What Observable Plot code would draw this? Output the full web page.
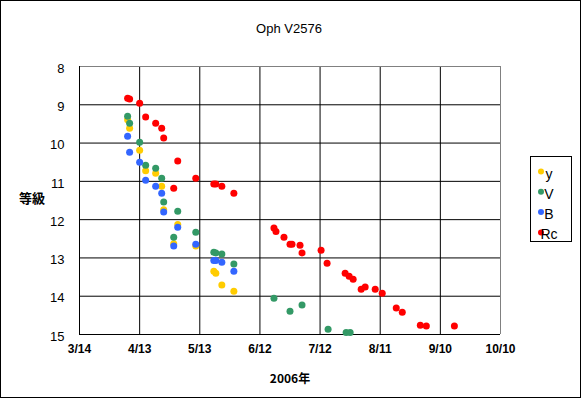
<!DOCTYPE html>
<html>
<head>
<meta charset="utf-8">
<script src="https://cdn.jsdelivr.net/npm/d3@7"></script>
<script src="https://cdn.jsdelivr.net/npm/@observablehq/plot@0.6"></script>
<style>
  html, body { margin: 0; padding: 0; background: #fff; }
  #chart { width: 581px; height: 398px; }
</style>
</head>
<body>
<div id="chart"></div>
<script>
const title = "Oph V2576";
const xLabel = "2006年";
const yLabel = "等級";
const xTickDates = ["2006-03-14","2006-04-13","2006-05-13","2006-06-12","2006-07-12","2006-08-11","2006-09-10","2006-10-10"];
const xTickLabels = ["3/14","4/13","5/13","6/12","7/12","8/11","9/10","10/10"];
const yTicks = [8,9,10,11,12,13,14,15];
const seriesNames = ["y","V","B","Rc"];
const seriesColors = ["#FFCC00","#339966","#3366FF","#FF0000"];

const yDates = ["2006-04-07","2006-04-08","2006-04-13","2006-04-16","2006-04-21","2006-04-24","2006-04-25","2006-04-30","2006-05-02","2006-05-11","2006-05-20","2006-05-21","2006-05-24","2006-05-30"];
const yMags  = [9.39,9.61,10.19,10.72,10.79,11.13,11.74,12.63,12.13,12.69,13.35,13.40,13.71,13.87];

const vDates = ["2006-04-07","2006-04-08","2006-04-13","2006-04-16","2006-04-21","2006-04-24","2006-04-25","2006-04-30","2006-05-02","2006-05-11","2006-05-20","2006-05-21","2006-05-24","2006-05-30","2006-06-19","2006-06-27","2006-07-03","2006-07-16","2006-07-25","2006-07-27"];
const vMags  = [9.30,9.48,9.98,10.58,10.66,10.92,11.54,12.46,11.78,12.33,12.85,12.87,12.90,13.16,14.05,14.39,14.23,14.86,14.95,14.95];

const bDates = ["2006-04-07","2006-04-08","2006-04-13","2006-04-16","2006-04-21","2006-04-24","2006-04-25","2006-04-30","2006-05-02","2006-05-11","2006-05-20","2006-05-21","2006-05-24","2006-05-30"];
const bMags  = [9.82,10.24,10.50,10.97,11.13,11.31,11.80,12.69,12.20,12.64,13.07,13.07,13.11,13.35];

const rDates = ["2006-04-07","2006-04-08","2006-04-13","2006-04-16","2006-04-21","2006-04-24","2006-04-25","2006-04-30","2006-05-02","2006-05-11","2006-05-20","2006-05-21","2006-05-24","2006-05-30","2006-06-19","2006-06-20","2006-06-24","2006-06-27","2006-06-28","2006-07-02","2006-07-03","2006-07-12T12:00Z","2006-07-15T12:00Z","2006-07-24T12:00Z","2006-07-26T12:00Z","2006-07-28T12:00Z","2006-08-01T12:00Z","2006-08-03T12:00Z","2006-08-08T12:00Z","2006-08-12","2006-08-19","2006-08-22","2006-08-31","2006-09-03","2006-09-17"];
const rMags  = [8.83,8.85,8.96,9.32,9.48,9.61,9.87,11.18,10.47,10.92,11.07,11.07,11.13,11.31,12.22,12.31,12.46,12.64,12.64,12.67,12.87,12.80,13.14,13.40,13.48,13.56,13.82,13.76,13.82,13.92,14.31,14.42,14.76,14.78,14.78];

const allDates = [yDates, vDates, bDates, rDates];
const allMags = [yMags, vMags, bMags, rMags];
const data = [];
seriesNames.forEach((s, i) => {
  allDates[i].forEach((d, j) => data.push({series: s, date: new Date(d), mag: allMags[i][j]}));
});
const tickDates = xTickDates.map(d => new Date(d));
const labelOf = new Map(tickDates.map((d, i) => [+d, xTickLabels[i]]));

const W = 581, H = 398;
const chart = Plot.plot({
  width: W, height: H,
  marginLeft: 79, marginRight: 81, marginTop: 66, marginBottom: 64,
  style: {background: "#fff", fontFamily: "'Liberation Sans', Arial, sans-serif", overflow: "visible"},
  x: {type: "utc", domain: [tickDates[0], tickDates[tickDates.length - 1]], ticks: tickDates, tickFormat: d => labelOf.get(+d), label: null, tickSize: 0},
  y: {domain: [8, 15], reverse: true, ticks: yTicks, tickFormat: "d", label: null, tickSize: 0},
  color: {domain: seriesNames, range: seriesColors},
  marks: [
    Plot.gridY(yTicks, {stroke: "#000", strokeOpacity: 1}),
    Plot.gridX(tickDates, {stroke: "#000", strokeOpacity: 1}),
    Plot.ruleY([8], {stroke: "#808080"}),
    Plot.ruleX([tickDates[tickDates.length - 1]], {stroke: "#808080"}),
    Plot.ruleY([15], {stroke: "#000"}),
    Plot.ruleX([tickDates[0]], {stroke: "#000"}),
    Plot.axisY({ticks: yTicks, tickFormat: "d", tickSize: 0, tickPadding: 15, fontSize: 13, dy: 2, label: null}),
    Plot.axisX({ticks: tickDates, tickFormat: d => labelOf.get(+d), tickSize: 0, tickPadding: 10, fontSize: 12, fontWeight: "bold", label: null}),
    Plot.dot(data, {x: "date", y: "mag", fill: "series", r: 3.5, stroke: null})
  ]
});

const svg = d3.select(chart);
svg.append("rect").attr("x", 0.5).attr("y", 0.5).attr("width", W - 1).attr("height", H - 1)
  .attr("fill", "none").attr("stroke", "#000");
svg.append("text").attr("x", 289).attr("y", 33).attr("text-anchor", "middle")
  .attr("font-size", 13).attr("font-family", "'Liberation Sans', Arial, sans-serif").text(title);
svg.append("text").attr("x", 290).attr("y", 383).attr("text-anchor", "middle")
  .attr("font-size", 12).attr("font-weight", "bold").attr("font-family", "'Noto Sans CJK JP', sans-serif").text(xLabel);
svg.append("text").attr("x", 32).attr("y", 203).attr("text-anchor", "middle")
  .attr("font-size", 13).attr("font-weight", "bold").attr("font-family", "'Noto Sans CJK JP', sans-serif").text(yLabel);

const lg = svg.append("g");
lg.append("rect").attr("x", 530.5).attr("y", 156.5).attr("width", 41).attr("height", 85)
  .attr("fill", "#fff").attr("stroke", "#000");
seriesNames.forEach((s, i) => {
  const cy = 171.5 + i * 20.3;
  lg.append("circle").attr("cx", 541).attr("cy", cy).attr("r", 3).attr("fill", seriesColors[i]);
  lg.append("text").attr("x", 549).attr("y", cy).attr("dy", "0.5em").attr("font-size", 14)
    .attr("font-family", "'Liberation Sans', Arial, sans-serif").text(s);
});

document.getElementById("chart").appendChild(chart);
</script>
</body>
</html>
